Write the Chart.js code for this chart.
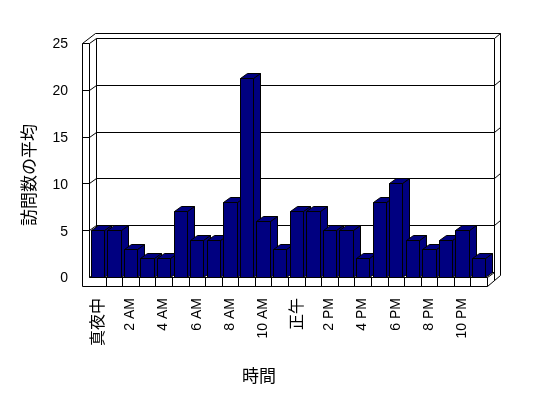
<!DOCTYPE html>
<html>
<head>
<meta charset="utf-8">
<script src="https://cdn.jsdelivr.net/npm/chart.js@4/dist/chart.umd.min.js"></script>
<style>
  html, body { margin: 0; padding: 0; background: #fff; }
  #wrap { width: 548px; height: 398px; }
</style>
</head>
<body>
<div id="wrap"><canvas id="c" width="548" height="398"></canvas></div>
<script>
const hours = ['真夜中','1 AM','2 AM','3 AM','4 AM','5 AM','6 AM','7 AM','8 AM','9 AM','10 AM','11 AM',
               '正午','1 PM','2 PM','3 PM','4 PM','5 PM','6 PM','7 PM','8 PM','9 PM','10 PM','11 PM'];
const visits = [5, 5, 3, 2, 2, 7, 4, 4, 8, 21.3, 6, 3, 7, 7, 5, 5, 2, 8, 10, 4, 3, 4, 5, 2];
const yTicks = [0, 5, 10, 15, 20, 25];
const xTitle = '時間';
const yTitle = '訪問数の平均';

const LATIN = "'Liberation Sans', Arial, 'Noto Sans CJK JP', sans-serif";
const CJK = "'Noto Sans CJK JP', 'Liberation Sans', sans-serif";

// 3D projection settings
const DX = 7, DY = -5;     // depth of plot box
const WX = 6, WY = -5;     // thickness of back wall
const STRIP = 7;           // front face of left wall
const FLOOR = 9;           // front face of floor

function P(v) { return Math.round(v) + 0.5; }

const box3d = {
  id: 'box3d',
  beforeDatasetsDraw(chart) {
    const ctx = chart.ctx;
    const { left: L, right: R, top: T, bottom: B } = chart.chartArea;
    const ys = chart.scales.y;
    ctx.save();
    ctx.lineWidth = 1;
    ctx.strokeStyle = '#000';
    const line = (pts) => {
      ctx.beginPath();
      ctx.moveTo(pts[0][0], pts[0][1]);
      for (let i = 1; i < pts.length; i++) ctx.lineTo(pts[i][0], pts[i][1]);
      ctx.stroke();
    };
    const xl = P(L - STRIP), x0 = P(L), xb = P(L + DX), xr = P(R), xrb = P(R + DX), xro = P(R + DX + WX);
    const yt = P(T), ytb = P(T + DY), yto = P(T + DY + WY), yB = P(B), yBb = P(B + DY), yF = P(B + FLOOR);

    // left wall front strip
    line([[xl, yt], [xl, yF]]);
    line([[x0, yt], [x0, yB]]);
    line([[xl, yt], [x0, yt]]);
    // left wall inner face back edge
    line([[xb, ytb], [xb, yBb]]);
    // top diagonals
    line([[xl, yt], [P(L - STRIP + DX + WX), yto]]);
    line([[x0, yt], [xb, ytb]]);
    // back wall face top & outer top
    line([[xb, ytb], [xrb, ytb]]);
    line([[P(L - STRIP + DX + WX), yto], [xro, yto]]);
    line([[xrb, ytb], [xro, yto]]);
    // right edges
    line([[xrb, ytb], [xrb, P(B + 3)]]);
    line([[xro, yto], [xro, P(B - 2)]]);
    // floor
    line([[xl, yF], [xr, yF]]);
    line([[x0, yB], [xr, yB]]);
    line([[xr, yB], [xr, yF]]);
    line([[xr, yB], [xrb, yBb]]);
    line([[xr, yF], [xro, P(B - 2)]]);
    line([[x0, yB], [xb, yBb]]);
    line([[xb, yBb], [xrb, yBb]]);
    // category ticks on floor front
    const n = hours.length;
    const cw = (R - L) / n;
    for (let i = 1; i < n; i++) {
      const xx = P(L + i * cw);
      line([[xx, yB], [xx, yF]]);
    }
    // gridlines
    yTicks.forEach(v => {
      if (v === 0 || v === 25) return;
      const yy = ys.getPixelForValue(v);
      line([[xl, P(yy)], [x0, P(yy)]]);
      line([[x0, P(yy)], [xb, P(yy + DY)]]);
      line([[xb, P(yy + DY)], [xrb, P(yy + DY)]]);
      line([[xrb, P(yy + DY)], [xro, P(yy + DY + WY)]]);
    });

    // bars
    const meta = chart.getDatasetMeta(0);
    meta.data.forEach(el => {
      const p = el.getProps(['x', 'y', 'base', 'width'], true);
      const a = Math.round(p.x - p.width / 2), b = Math.round(p.x + p.width / 2);
      const t = Math.round(p.y), bs = Math.round(p.base);
      ctx.fillStyle = '#000080';
      // side
      ctx.beginPath();
      ctx.moveTo(b + 0.5, t + 0.5); ctx.lineTo(b + DX + 0.5, t + DY + 0.5);
      ctx.lineTo(b + DX + 0.5, bs + DY + 0.5); ctx.lineTo(b + 0.5, bs + 0.5); ctx.closePath();
      ctx.fill(); ctx.stroke();
      // top
      ctx.beginPath();
      ctx.moveTo(a + 0.5, t + 0.5); ctx.lineTo(a + DX + 0.5, t + DY + 0.5);
      ctx.lineTo(b + DX + 0.5, t + DY + 0.5); ctx.lineTo(b + 0.5, t + 0.5); ctx.closePath();
      ctx.fill(); ctx.stroke();
      // front
      ctx.beginPath();
      ctx.rect(a + 0.5, t + 0.5, b - a, bs - t);
      ctx.fill(); ctx.stroke();
    });
    ctx.restore();
    return false;
  },
  afterDraw(chart) {
    const ctx = chart.ctx;
    ctx.save();
    ctx.fillStyle = '#000';
    ctx.font = '17px ' + CJK;
    ctx.textAlign = 'center';
    ctx.textBaseline = 'middle';
    ctx.fillText(xTitle, 259, 376);
    ctx.translate(29, 175);
    ctx.rotate(-Math.PI / 2);
    ctx.fillText(yTitle, 0, 0);
    ctx.restore();
  }
};

new Chart(document.getElementById('c'), {
  type: 'bar',
  data: {
    labels: hours,
    datasets: [{
      data: visits,
      backgroundColor: '#000080',
      borderColor: '#000',
      borderWidth: 1,
      barPercentage: 0.8,
      categoryPercentage: 1.0
    }]
  },
  options: {
    responsive: false,
    animation: false,
    events: [],
    layout: { padding: { left: 0, right: 61, top: 43, bottom: 0 } },
    plugins: { legend: { display: false }, tooltip: { enabled: false }, title: { display: false } },
    scales: {
      x: {
        grid: { display: false, drawTicks: false },
        border: { display: false },
        ticks: {
          autoSkip: false,
          minRotation: 90,
          maxRotation: 90,
          padding: 21,
          color: '#000',
          font: (c) => {
            const lbl = hours[c.index] || '';
            return /[^\x00-\x7F]/.test(lbl) ? { family: CJK, size: 16 } : { family: LATIN, size: 14 };
          },
          callback: (v, i) => (i % 2 === 0 ? hours[i] : '')
        },
        afterFit: (s) => { s.height = 121; }
      },
      y: {
        min: 0,
        max: 25,
        grid: { display: false, drawTicks: false },
        border: { display: false },
        afterBuildTicks: (s) => { s.ticks = yTicks.map(v => ({ value: v })); },
        ticks: {
          padding: 21,
          labelOffset: 1.5,
          color: '#000',
          font: { family: LATIN, size: 14 }
        },
        afterFit: (s) => { s.width = 89; }
      }
    }
  },
  plugins: [box3d]
});
</script>
</body>
</html>
